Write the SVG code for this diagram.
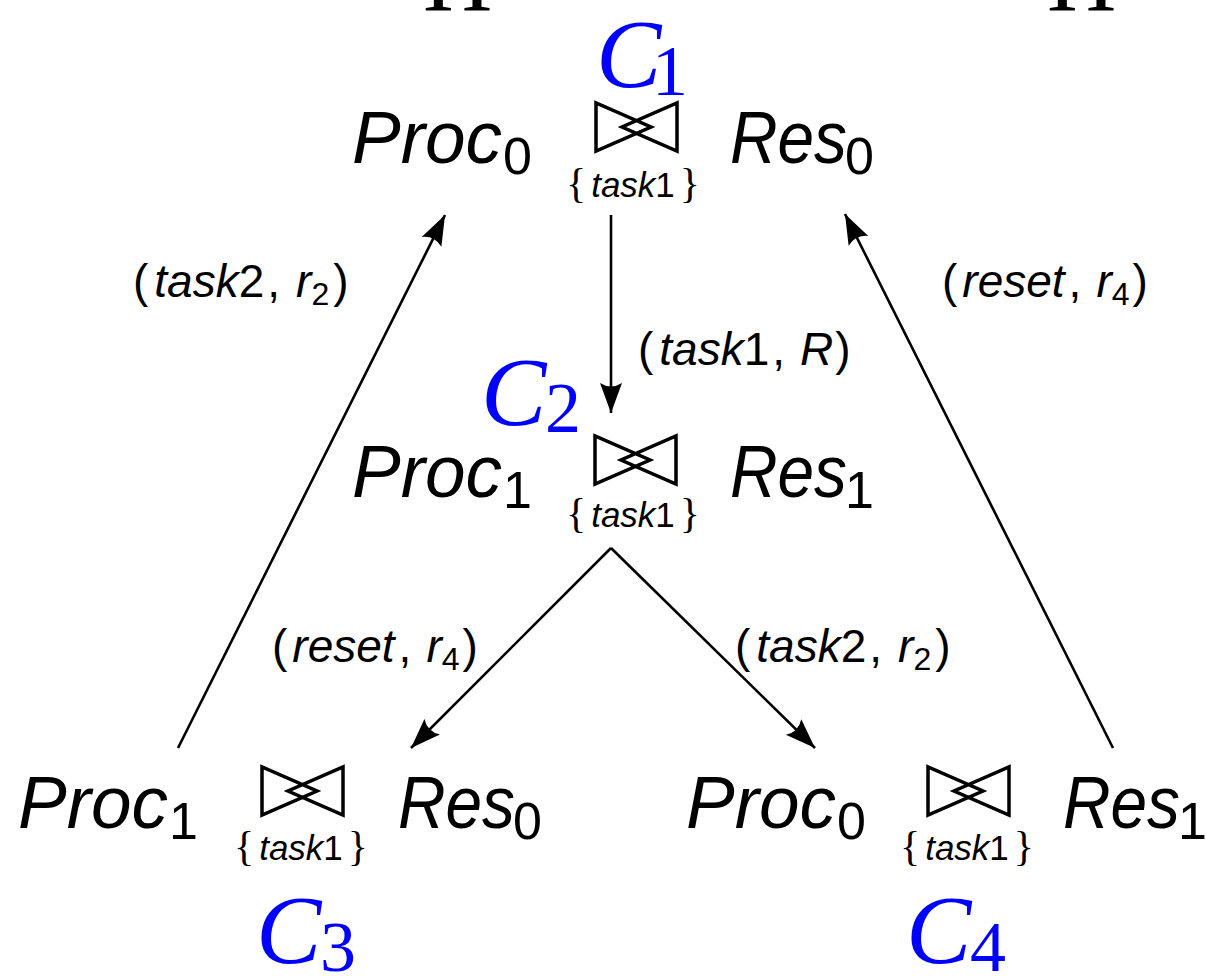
<svg xmlns="http://www.w3.org/2000/svg" width="1207" height="976" viewBox="0 0 1207 976">
<defs>
<style>
.big{font-family:"Liberation Sans",Arial,sans-serif;font-size:74px;font-style:italic;fill:#000}
.bsub{font-style:normal;font-size:52px}
.lbl{font-family:"Liberation Sans",Arial,sans-serif;font-size:46px;fill:#000}
.it{font-style:italic}
.sub{font-size:32px}
.set{font-family:"Liberation Sans",Arial,sans-serif;font-size:35px;fill:#000}
.br{font-family:"Liberation Serif","Times New Roman",serif;font-style:normal;font-size:42px}
.cl{font-family:"Liberation Serif","Times New Roman",serif;font-style:italic;font-size:98px;fill:#0000ff}
.clsub{font-style:normal;font-size:72px}
.hh{font-family:"Liberation Serif","Times New Roman",serif;font-size:96px;fill:#000}
.bow{fill:none;stroke:#000;stroke-width:3.5;stroke-linejoin:miter}
.edge{fill:none;stroke:#000;stroke-width:2.6}
</style>
<marker id="ah" markerUnits="userSpaceOnUse" markerWidth="34" markerHeight="26" refX="30" refY="11" orient="auto" viewBox="0 0 34 22">
<path d="M30,11 L0,0 Q7,11 0,22 Z" fill="#000"/>
</marker>
<path id="bt" class="bow" d="M0,0 L0,48 L55,24 Z M81,0 L81,48 L26,24 Z"/>
</defs>

<g id="top-cut">
<text class="hh" x="423" y="11">H</text>
<text class="hh" x="1047" y="11">H</text>
</g>

<g id="C1">
<text class="big" x="352" y="163"><tspan textLength="150" lengthAdjust="spacingAndGlyphs">Proc</tspan><tspan class="bsub" x="503" y="174">0</tspan></text>
<use href="#bt" x="596" y="103"/>
<text class="set" x="633" y="197" text-anchor="middle"><tspan class="br">{</tspan><tspan class="it" dx="5">task</tspan>1<tspan class="br" dx="5">}</tspan></text>
<text class="big" x="730" y="163"><tspan textLength="117" lengthAdjust="spacingAndGlyphs">Res</tspan><tspan class="bsub" x="845" y="174">0</tspan></text>
<text class="cl" x="596" y="87">C<tspan class="clsub" x="652" y="95">1</tspan></text>
</g>

<g id="C2">
<text class="big" x="352" y="497"><tspan textLength="150" lengthAdjust="spacingAndGlyphs">Proc</tspan><tspan class="bsub" x="503" y="508">1</tspan></text>
<use href="#bt" x="595" y="436"/>
<text class="set" x="633" y="527" text-anchor="middle"><tspan class="br">{</tspan><tspan class="it" dx="5">task</tspan>1<tspan class="br" dx="5">}</tspan></text>
<text class="big" x="730" y="497"><tspan textLength="117" lengthAdjust="spacingAndGlyphs">Res</tspan><tspan class="bsub" x="845" y="508">1</tspan></text>
<text class="cl" x="481" y="425">C<tspan class="clsub" x="545" y="432">2</tspan></text>
</g>

<g id="C3">
<text class="big" x="18" y="828"><tspan textLength="150" lengthAdjust="spacingAndGlyphs">Proc</tspan><tspan class="bsub" x="169" y="839">1</tspan></text>
<use href="#bt" x="262" y="767"/>
<text class="set" x="301" y="860" text-anchor="middle"><tspan class="br">{</tspan><tspan class="it" dx="5">task</tspan>1<tspan class="br" dx="5">}</tspan></text>
<text class="big" x="398" y="828"><tspan textLength="117" lengthAdjust="spacingAndGlyphs">Res</tspan><tspan class="bsub" x="513" y="839">0</tspan></text>
<text class="cl" x="256" y="963">C<tspan class="clsub" x="320" y="971">3</tspan></text>
</g>

<g id="C4">
<text class="big" x="686" y="828"><tspan textLength="150" lengthAdjust="spacingAndGlyphs">Proc</tspan><tspan class="bsub" x="837" y="839">0</tspan></text>
<use href="#bt" x="928" y="767"/>
<text class="set" x="967" y="860" text-anchor="middle"><tspan class="br">{</tspan><tspan class="it" dx="5">task</tspan>1<tspan class="br" dx="5">}</tspan></text>
<text class="big" x="1063" y="828"><tspan textLength="117" lengthAdjust="spacingAndGlyphs">Res</tspan><tspan class="bsub" x="1178" y="839">1</tspan></text>
<text class="cl" x="906" y="963">C<tspan class="clsub" x="970" y="971">4</tspan></text>
</g>

<g id="connectors">
<line class="edge" x1="611" y1="215" x2="611" y2="413" marker-end="url(#ah)"/>
<line class="edge" x1="178" y1="748" x2="445" y2="215" marker-end="url(#ah)"/>
<line class="edge" x1="1113" y1="748" x2="845" y2="214" marker-end="url(#ah)"/>
<line class="edge" x1="611" y1="548" x2="411" y2="748" marker-end="url(#ah)"/>
<line class="edge" x1="611" y1="548" x2="815" y2="748" marker-end="url(#ah)"/>
<text class="lbl" x="133" y="297">(<tspan class="it" dx="6">task</tspan>2<tspan dx="3">,</tspan><tspan class="it" dx="16">r</tspan><tspan class="sub" dy="8">2</tspan><tspan dy="-8" dx="4">)</tspan></text>
<text class="lbl" x="942" y="297">(<tspan class="it" dx="5">reset</tspan><tspan dx="4">,</tspan><tspan class="it" dx="15">r</tspan><tspan class="sub" dy="8">4</tspan><tspan dy="-8" dx="3">)</tspan></text>
<text class="lbl" x="638" y="365">(<tspan class="it" dx="6">task</tspan>1<tspan dx="3">,</tspan><tspan class="it" dx="15">R</tspan><tspan dx="2">)</tspan></text>
<text class="lbl" x="272" y="662">(<tspan class="it" dx="5">reset</tspan><tspan dx="4">,</tspan><tspan class="it" dx="15">r</tspan><tspan class="sub" dy="8">4</tspan><tspan dy="-8" dx="3">)</tspan></text>
<text class="lbl" x="735" y="662">(<tspan class="it" dx="6">task</tspan>2<tspan dx="3">,</tspan><tspan class="it" dx="16">r</tspan><tspan class="sub" dy="8">2</tspan><tspan dy="-8" dx="4">)</tspan></text>
</g>
</svg>
